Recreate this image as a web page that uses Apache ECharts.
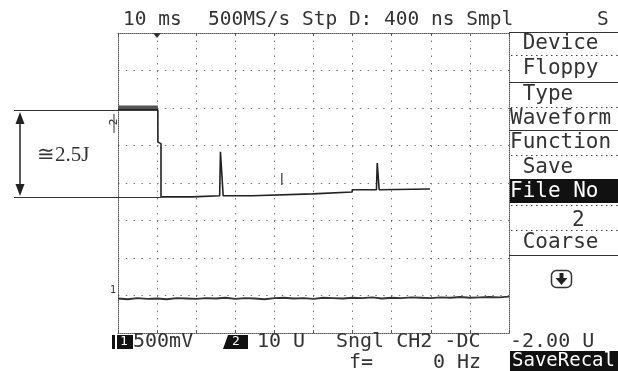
<!DOCTYPE html>
<html><head><meta charset="utf-8">
<script src="https://cdn.jsdelivr.net/npm/echarts@6/dist/echarts.min.js"></script>
<style>html,body{margin:0;padding:0;background:#fff}#c{width:618px;height:371px}</style>
</head><body><div id="c"></div><script>
// ---- data (screen divisions: x 0..10, y 0..8) ----
const ch2X = [0, 1.02, 1.02, 1.10, 1.10, 1.89, 1.89, 2.60, 2.62, 2.67, 2.69, 3.44, 3.44, 4.97, 4.97, 5.99, 5.99, 6.61, 6.63, 6.66, 6.68, 7.98];
const ch2Y = [5.95, 5.95, 5.09, 5.05, 3.63, 3.63, 3.66, 3.66, 4.83, 4.83, 3.66, 3.66, 3.71, 3.71, 3.76, 3.76, 3.82, 3.82, 4.53, 4.53, 3.82, 3.84];
const ch2BandX = [0, 1.02];
const ch2BandY = [6.0, 6.0];
const glitchX = [4.19, 4.19];
const glitchY = [4.27, 3.95];
const ch1X = [0,0.25,0.5,0.75,1,1.25,1.5,1.75,2,2.25,2.5,2.75,3,3.25,3.5,3.75,4,4.25,4.5,4.75,5,5.25,5.5,5.75,6,6.25,6.5,6.75,7,7.25,7.5,7.75,8,8.25,8.5,8.75,9,9.25,9.5,9.75,10];
const ch1Y = [0.92,0.90,0.93,0.91,0.92,0.90,0.93,0.92,0.91,0.93,0.92,0.94,0.91,0.93,0.92,0.90,0.93,0.94,0.92,0.93,0.91,0.94,0.93,0.92,0.94,0.93,0.95,0.92,0.94,0.93,0.95,0.94,0.93,0.95,0.94,0.96,0.94,0.95,0.96,0.95,0.97];
const topLabels = ["10 ms", "500MS/s Stp D: 400 ns Smpl", "S"];
const menuItems = [" Device", " Floppy", " Type", "Waveform", "Function", " Save", "File No", "2", " Coarse"];
const bottomRow1 = ["500mV", "10 U", "Sngl CH2 -DC", "-2.00 U"];
const bottomRow2 = ["f=", "0 Hz", "SaveRecal"];
const energyLabel = "≅2.5J";

const zip = (a, b) => a.map((v, i) => [v, b[i]]);
const MONO = 'DejaVu Sans Mono';
const TXT = '#333';

const chart = echarts.init(document.getElementById('c'), null, {renderer: 'canvas'});
const gl = {type: [1.5, 6], color: '#777', width: 1};
const bl = {type: [1, 1], color: '#555', width: 1};

function txt(x, y, s, size, opts) {
  opts = opts || {};
  return {type: 'text', x: x, y: y, z: 10, style: {text: s, font: (opts.weight || 'normal') + ' ' + size + 'px "' + (opts.family || MONO) + '"', fill: opts.fill || TXT, textAlign: opts.align || 'left', textVerticalAlign: 'middle'}};
}
function hline(x1, x2, y, dashed, color) {
  return {type: 'line', z: 5, shape: {x1: x1, y1: y, x2: x2, y2: y}, style: {stroke: color || '#444', lineWidth: 1, lineDash: dashed ? [1.5, 3.5] : null}};
}
const graphic = [
  txt(123, 20, topLabels[0], 19.5),
  txt(208, 20, topLabels[1], 19.5),
  txt(597, 20, topLabels[2], 19.5),
  // trigger marker
  {type: 'polygon', z: 6, shape: {points: [[153, 33], [161, 33], [157, 38]]}, style: {fill: '#333'}},
  // channel markers
  {type: 'text', x: 114, y: 122, rotation: Math.PI / 2, z: 10, style: {text: '2', font: '11px "' + MONO + '"', fill: '#333', textAlign: 'center', textVerticalAlign: 'middle'}},
  {type: 'line', z: 6, shape: {x1: 114, y1: 114, x2: 114, y2: 133}, style: {stroke: '#333', lineWidth: 1}},
  txt(110, 290, '1', 10),
  // energy annotation
  hline(14, 118, 110.5, false, '#333'),
  hline(14, 161, 197.5, false, '#333'),
  {type: 'line', z: 5, shape: {x1: 20, y1: 118, x2: 20, y2: 190}, style: {stroke: '#222', lineWidth: 1.5}},
  {type: 'polygon', z: 5, shape: {points: [[20, 112], [15.5, 124], [24.5, 124]]}, style: {fill: '#222'}},
  {type: 'polygon', z: 5, shape: {points: [[20, 196], [15.5, 184], [24.5, 184]]}, style: {fill: '#222'}},
  txt(37, 155, energyLabel, 21, {family: 'Liberation Serif'}),
  // menu frame
  hline(509, 618, 32.5, false, '#333'),
  hline(511, 618, 55.5, true),
  hline(509, 618, 82.5, false, '#333'),
  hline(511, 618, 107.5, true),
  hline(509, 618, 130.5, false, '#333'),
  hline(511, 618, 155.5, true),
  {type: 'rect', z: 4, shape: {x: 510, y: 179, width: 108, height: 24}, style: {fill: '#111'}},
  hline(511, 618, 205.5, true),
  hline(511, 618, 230.5, true),
  hline(509, 618, 255.5, false, '#333'),
  txt(510, 44, menuItems[0], 21),
  txt(510, 69, menuItems[1], 21),
  txt(510, 95, menuItems[2], 21),
  txt(510, 119, menuItems[3], 21),
  txt(510, 143, menuItems[4], 21),
  txt(510, 168, menuItems[5], 21),
  txt(510, 192, menuItems[6], 21, {fill: '#fff'}),
  txt(572, 221, menuItems[7], 21),
  txt(510, 243, menuItems[8], 21),
  // scroll arrow button
  {type: 'rect', z: 5, shape: {x: 551.5, y: 270.5, width: 20, height: 17, r: 5}, style: {fill: '#fff', stroke: '#333', lineWidth: 1.5}},
  {type: 'polygon', z: 6, shape: {points: [[555.5, 278], [567.5, 278], [561.5, 285]]}, style: {fill: '#222'}},
  {type: 'rect', z: 6, shape: {x: 559.5, y: 273, width: 4, height: 6}, style: {fill: '#222'}},
  // bottom status
  {type: 'rect', z: 4, shape: {x: 112, y: 335, width: 3, height: 14}, style: {fill: '#111'}},
  {type: 'rect', z: 4, shape: {x: 117, y: 335, width: 16, height: 14}, style: {fill: '#111'}},
  txt(120, 342, '1', 13, {fill: '#fff'}),
  txt(133, 342, bottomRow1[0], 20),
  {type: 'polygon', z: 4, shape: {points: [[228, 335], [248, 335], [248, 349], [223, 349]]}, style: {fill: '#111'}},
  txt(232, 342, '2', 13, {fill: '#fff'}),
  txt(257, 342, bottomRow1[1], 20),
  txt(336, 342, bottomRow1[2], 20),
  txt(510, 342, bottomRow1[3], 20),
  txt(349, 363, bottomRow2[0], 20),
  txt(433, 363, bottomRow2[1], 20),
  {type: 'rect', z: 4, shape: {x: 510, y: 351, width: 108, height: 20}, style: {fill: '#111'}},
  txt(512, 361, bottomRow2[2], 19, {fill: '#fff'})
];

chart.setOption({
  backgroundColor: '#fff',
  animation: false,
  grid: {left: 118, top: 33, width: 391, height: 300, show: false},
  xAxis: [
    {type: 'value', min: 0, max: 10, interval: 1, position: 'bottom',
     axisLine: {show: true, lineStyle: bl}, axisTick: {show: true, inside: true, length: 3, lineStyle: {color: '#555'}},
     axisLabel: {show: false}, splitLine: {show: true, showMinLine: false, showMaxLine: false, lineStyle: gl}},
    {type: 'value', min: 0, max: 10, interval: 1, position: 'top',
     axisLine: {show: true, onZero: false, lineStyle: bl}, axisTick: {show: true, inside: true, length: 3, lineStyle: {color: '#555'}},
     axisLabel: {show: false}, splitLine: {show: false}}
  ],
  yAxis: [
    {type: 'value', min: 0, max: 8, interval: 1, position: 'left',
     axisLine: {show: true, lineStyle: bl}, axisTick: {show: false},
     axisLabel: {show: false}, splitLine: {show: true, showMinLine: false, showMaxLine: false, lineStyle: {type: [1.5, 6.3], color: '#777', width: 1}}},
    {type: 'value', min: 0, max: 8, interval: 1, position: 'right',
     axisLine: {show: true, onZero: false, lineStyle: bl}, axisTick: {show: false},
     axisLabel: {show: false}, splitLine: {show: false}}
  ],
  series: [
    {type: 'line', name: 'CH1', data: zip(ch1X, ch1Y), showSymbol: false, lineStyle: {color: '#333', width: 2}, z: 3},
    {type: 'line', name: 'CH2 band', data: zip(ch2BandX, ch2BandY), showSymbol: false, lineStyle: {color: '#555', width: 5}, z: 3},
    {type: 'line', name: 'CH2', data: zip(ch2X, ch2Y), showSymbol: false, lineStyle: {color: '#222', width: 1.6}, z: 4},
    {type: 'line', name: 'glitch', data: zip(glitchX, glitchY), showSymbol: false, lineStyle: {color: '#333', width: 1.2}, z: 4}
  ],
  graphic: graphic
});
</script></body></html>
